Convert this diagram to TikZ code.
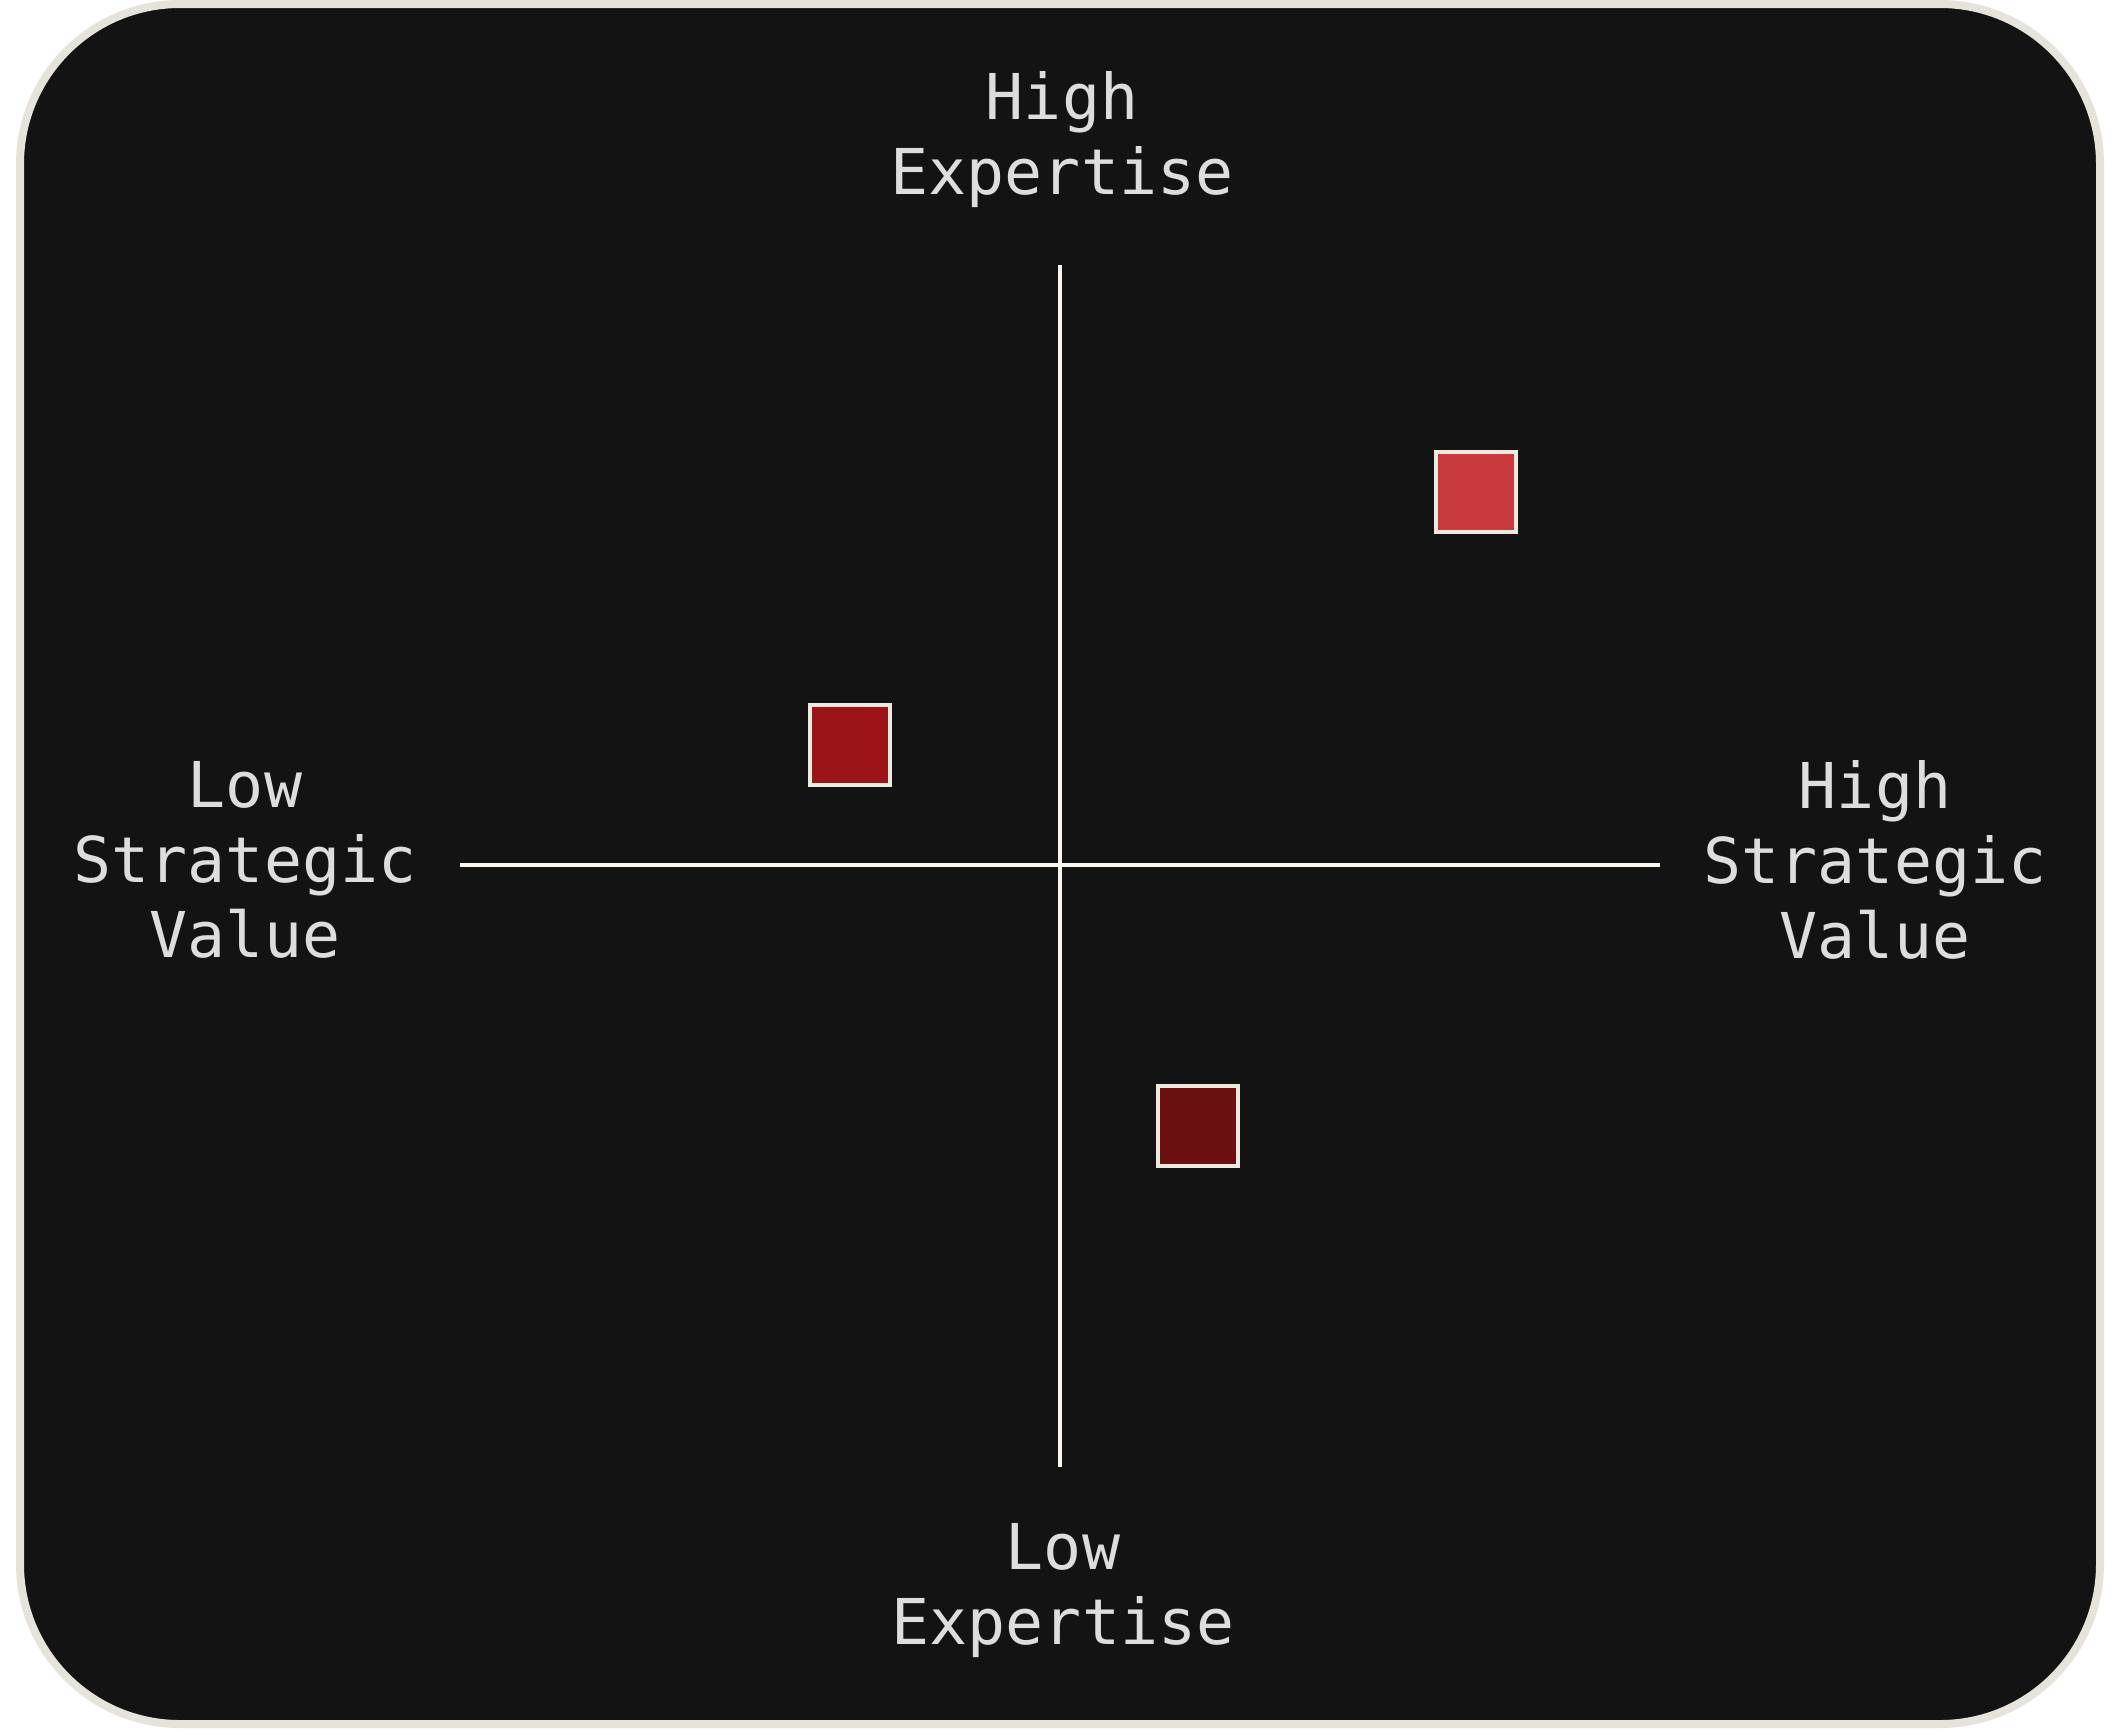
\documentclass[tikz,border=0pt]{standalone}
\usepackage{fontspec}
\usepackage{tikz}
\newfontfamily\labelfont{DejaVu Sans Mono}

\definecolor{bgdark}{HTML}{131313}
\definecolor{framecol}{HTML}{E6E3DB}
\definecolor{axiscol}{HTML}{FAF5EE}
\definecolor{labelcol}{HTML}{DDDDDD}
\definecolor{boxedge}{HTML}{EEEAE0}
\definecolor{redhigh}{HTML}{C83A3E}
\definecolor{redmid}{HTML}{9B1518}
\definecolor{redlow}{HTML}{6B1010}

\begin{document}
\begin{tikzpicture}[x=0.25pt,y=-0.25pt,
	axislabel/.style={text=labelcol,align=center,inner sep=0pt,
		font=\fontsize{15.8}{18.75}\selectfont\labelfont},
	item/.style={draw=boxedge,line width=1pt,minimum size=20pt,inner sep=0pt}]
	\useasboundingbox (0,0) rectangle (2120,1728);
	\draw[fill=bgdark,draw=framecol,line width=2pt,rounded corners=40pt] (20,4) rectangle (2100,1724);

	\coordinate (west)  at (460, 865);
	\coordinate (east)  at (1660, 865);
	\coordinate (north) at (1060, 265);
	\coordinate (south) at (1060, 1467);

	\draw[axiscol,line width=1pt] (west) -- (east);
	\draw[axiscol,line width=1pt] (north) -- (south);

	\node[axislabel] (hiexp) at (1062, 140)  {High\\Expertise};
	\node[axislabel] (loexp) at (1063, 1590) {Low\\Expertise};
	\node[axislabel] (loval) at (245, 860)   {Low\\Strategic\\Value};
	\node[axislabel] (hival) at (1875, 860)  {High\\Strategic\\Value};

	\node[item,fill=redhigh] (sqa) at (1476, 492)  {};
	\node[item,fill=redmid]  (sqb) at (850, 745)   {};
	\node[item,fill=redlow]  (sqc) at (1198, 1126) {};
\end{tikzpicture}
\end{document}
